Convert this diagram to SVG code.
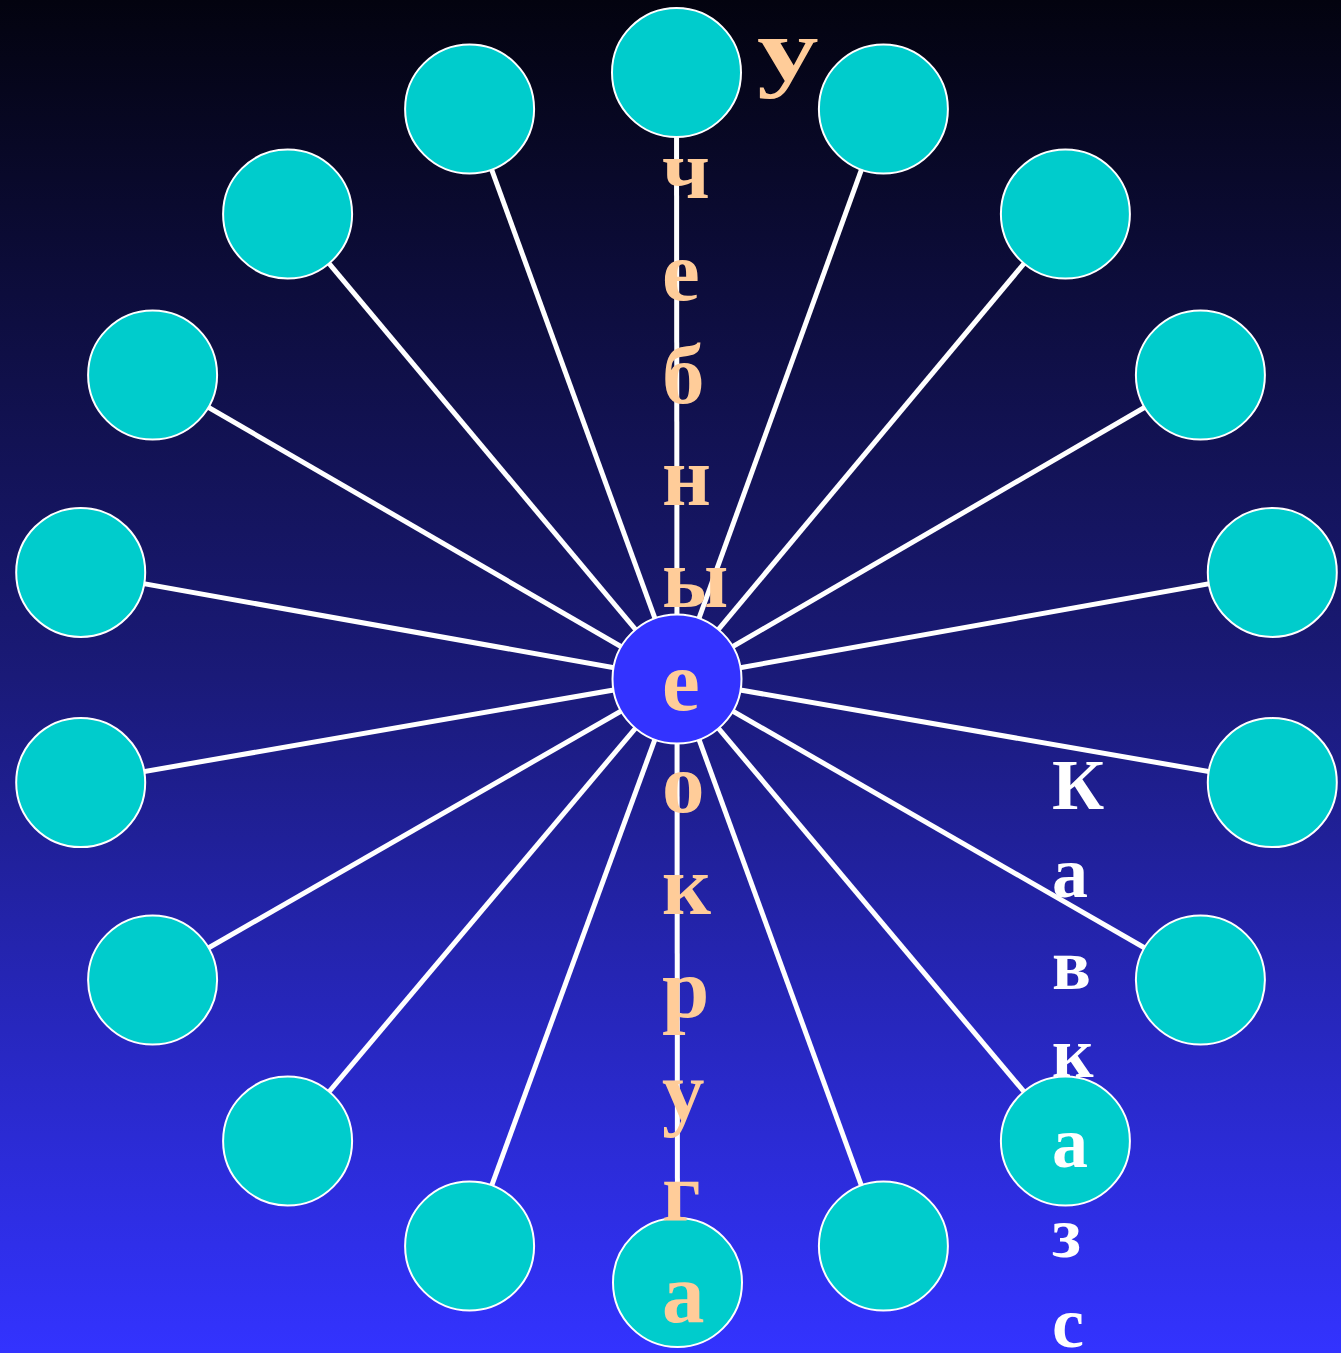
<svg xmlns="http://www.w3.org/2000/svg" width="1341" height="1353" viewBox="0 0 1341 1353">
<defs>
<linearGradient id="bg" x1="0" y1="0" x2="0" y2="1">
<stop offset="0" stop-color="#03030f"/>
<stop offset="0.5" stop-color="#1a1a78"/>
<stop offset="1" stop-color="#3333ff"/>
</linearGradient>
</defs>
<style>
.spoke{stroke:#ffffff;stroke-width:5;fill:none}
.node{fill:#00cccc;stroke:#ffffff;stroke-width:2}
.hub{fill:#3333ff;stroke:#ffffff;stroke-width:2}
.or{fill:#ffcc99;font-family:"Liberation Serif","Times New Roman",serif;font-weight:bold;font-size:85px}
.wh{fill:#ffffff;font-family:"Liberation Serif","Times New Roman",serif;font-weight:bold;font-size:72px}
</style>
<rect x="0" y="0" width="1341" height="1353" fill="url(#bg)"/>
<g id="connectors">
<line class="spoke" x1="677" y1="679" x2="676.5" y2="72.5"/>
<line class="spoke" x1="677" y1="679" x2="883.4" y2="109"/>
<line class="spoke" x1="677" y1="679" x2="1065.4" y2="214"/>
<line class="spoke" x1="677" y1="679" x2="1200.4" y2="375"/>
<line class="spoke" x1="677" y1="679" x2="1272.3" y2="572.4"/>
<line class="spoke" x1="677" y1="679" x2="1272.3" y2="782.6"/>
<line class="spoke" x1="677" y1="679" x2="1200.4" y2="980"/>
<line class="spoke" x1="677" y1="679" x2="1065.4" y2="1141"/>
<line class="spoke" x1="677" y1="679" x2="883.4" y2="1246"/>
<line class="spoke" x1="677" y1="679" x2="677.5" y2="1282.5"/>
<line class="spoke" x1="677" y1="679" x2="469.6" y2="1246"/>
<line class="spoke" x1="677" y1="679" x2="287.6" y2="1141"/>
<line class="spoke" x1="677" y1="679" x2="152.6" y2="980"/>
<line class="spoke" x1="677" y1="679" x2="80.7" y2="782.6"/>
<line class="spoke" x1="677" y1="679" x2="80.7" y2="572.4"/>
<line class="spoke" x1="677" y1="679" x2="152.6" y2="375"/>
<line class="spoke" x1="677" y1="679" x2="287.6" y2="214"/>
<line class="spoke" x1="677" y1="679" x2="469.6" y2="109"/>
</g>
<g id="n1"><circle class="node" cx="676.5" cy="72.5" r="64.5"/></g>
<g id="n2"><circle class="node" cx="883.4" cy="109" r="64.5"/></g>
<g id="n3"><circle class="node" cx="1065.4" cy="214" r="64.5"/></g>
<g id="n4"><circle class="node" cx="1200.4" cy="375" r="64.5"/></g>
<g id="n5"><circle class="node" cx="1272.3" cy="572.4" r="64.5"/></g>
<g id="n6"><circle class="node" cx="1272.3" cy="782.6" r="64.5"/></g>
<g id="n7"><circle class="node" cx="1200.4" cy="980" r="64.5"/></g>
<g id="n8"><circle class="node" cx="1065.4" cy="1141" r="64.5"/></g>
<g id="n9"><circle class="node" cx="883.4" cy="1246" r="64.5"/></g>
<g id="n10"><circle class="node" cx="677.5" cy="1282.5" r="64.5"/></g>
<g id="n11"><circle class="node" cx="469.6" cy="1246" r="64.5"/></g>
<g id="n12"><circle class="node" cx="287.6" cy="1141" r="64.5"/></g>
<g id="n13"><circle class="node" cx="152.6" cy="980" r="64.5"/></g>
<g id="n14"><circle class="node" cx="80.7" cy="782.6" r="64.5"/></g>
<g id="n15"><circle class="node" cx="80.7" cy="572.4" r="64.5"/></g>
<g id="n16"><circle class="node" cx="152.6" cy="375" r="64.5"/></g>
<g id="n17"><circle class="node" cx="287.6" cy="214" r="64.5"/></g>
<g id="n18"><circle class="node" cx="469.6" cy="109" r="64.5"/></g>
<g id="hub"><circle class="hub" cx="677" cy="679" r="64.5"/></g>
<g id="orange-text">
<text class="or" transform="translate(757,80) scale(1.45,1.04)" x="0" y="0">у</text>
<text class="or" x="662" y="198">ч</text>
<text class="or" x="662" y="300">е</text>
<text class="or" x="662" y="403">б</text>
<text class="or" x="662" y="505">н</text>
<text class="or" x="662" y="607">ы</text>
<text class="or" x="662" y="710">е</text>
<text class="or" x="662" y="812">о</text>
<text class="or" x="662" y="914">к</text>
<text class="or" x="662" y="1017">р</text>
<text class="or" x="662" y="1120">у</text>
<text class="or" x="662" y="1221">г</text>
<text class="or" x="662" y="1322">а</text>
</g>
<g id="white-text">
<text class="wh" x="1052" y="809">К</text>
<text class="wh" x="1052" y="897">а</text>
<text class="wh" x="1052" y="989">в</text>
<text class="wh" x="1052" y="1077">к</text>
<text class="wh" x="1052" y="1167">а</text>
<text class="wh" x="1052" y="1257">з</text>
<text class="wh" x="1052" y="1347">с</text>
</g>
</svg>
